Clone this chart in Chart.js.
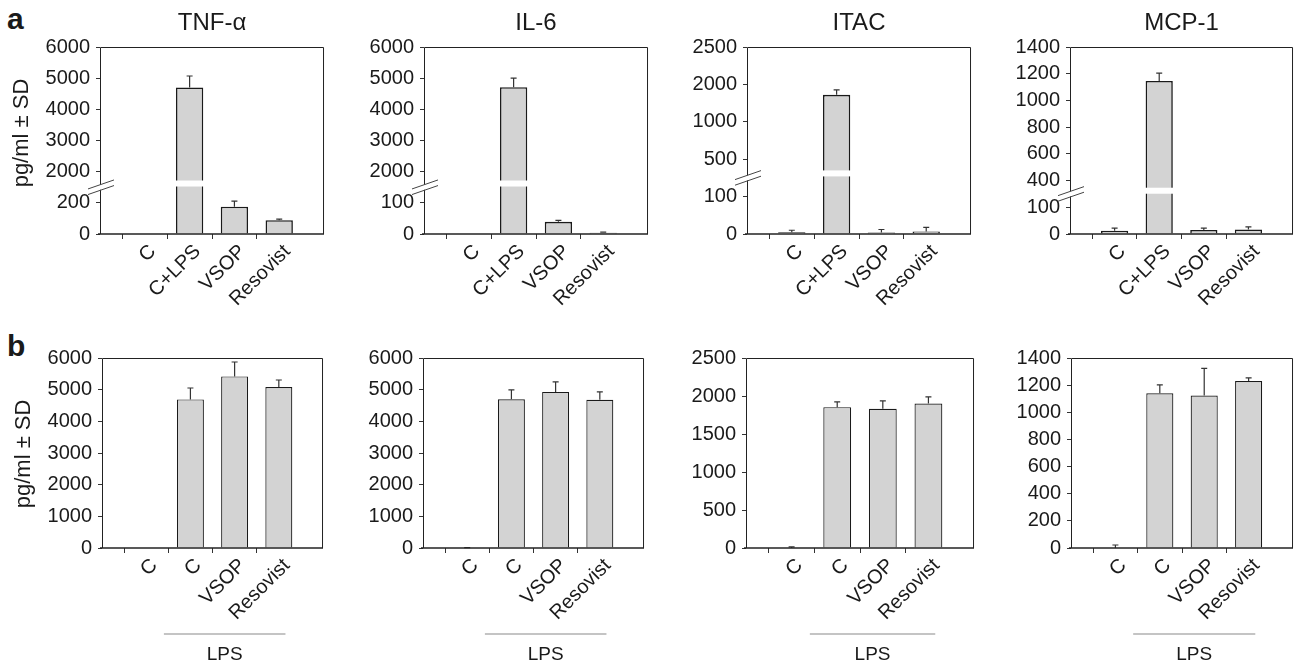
<!DOCTYPE html>
<html>
<head>
<meta charset="utf-8">
<script src="https://cdn.jsdelivr.net/npm/chart.js@4"></script>
<style>
  body { margin: 0; background: #fff; width: 1310px; height: 666px; position: relative; overflow: hidden;
         font-family: "Liberation Sans", Arial, sans-serif; }
  canvas { position: absolute; }
  .lbl { position: absolute; font-weight: bold; font-size: 30px; color: #1a1a1a; line-height: 1; }
</style>
</head>
<body>
<div class="lbl" style="left:7px;top:4px">a</div>
<div class="lbl" style="left:7px;top:331px">b</div>
<script>
// tick labels of the broken y axes (each tick sits one step apart)
const tnfTicks = [0, 200, 2000, 3000, 4000, 5000, 6000];
const il6Ticks = [0, 100, 2000, 3000, 4000, 5000, 6000];
const itacTicks = [0, 100, 500, 1000, 2000, 2500];
const mcpTicks = [0, 100, 400, 600, 800, 1000, 1200, 1400];
// plain y axes of row b
const tnfTicksB = [0, 1000, 2000, 3000, 4000, 5000, 6000];
const il6TicksB = [0, 1000, 2000, 3000, 4000, 5000, 6000];
const itacTicksB = [0, 500, 1000, 1500, 2000, 2500];
const mcpTicksB = [0, 200, 400, 600, 800, 1000, 1200, 1400];

const catsA = ['C', 'C+LPS', 'VSOP', 'Resovist'];
const catsB = ['C', 'C', 'VSOP', 'Resovist'];

// row a: means and SD (pg/ml)
const tnfA = [0, 4700, 175, 89];
const tnfAsd = [0, 370, 36, 6];
const il6A = [0, 4710, 39, 4];
const il6Asd = [0, 290, 5, 2];
const itacA = [4.5, 1720, 4, 7];
const itacAsd = [5.5, 135, 8, 10.5];
const mcpA = [12, 1146, 15, 17];
const mcpAsd = [10, 58, 7, 10];

// row b: means and SD (pg/ml)
const tnfB = [0, 4693, 5419, 5084];
const tnfBsd = [0, 360, 455, 221];
const il6B = [0, 4697, 4930, 4678];
const il6Bsd = [10, 296, 315, 252];
const itacB = [0, 1853, 1832, 1902];
const itacBsd = [15, 71, 105, 87];
const mcpB = [0, 1140, 1123, 1231];
const mcpBsd = [22, 62, 201, 22];

const INK = '#1a1a1a';
const FONT = '"Liberation Sans", Arial, sans-serif';

// value -> position on the axis (one unit per tick step)
function toAxis(v, ticks, broken) {
  if (broken) {
    if (v <= ticks[1]) return v / ticks[1];
    if (v < ticks[2]) return 1 + (v - ticks[1]) / ticks[1];
  }
  for (let i = 0; i < ticks.length - 1; i++) {
    if (v <= ticks[i + 1]) return i + (v - ticks[i]) / (ticks[i + 1] - ticks[i]);
  }
  return ticks.length - 1;
}

const panels = [
  {title: 'TNF-\u03b1', ticks: tnfTicks, cats: catsA, vals: tnfA, sd: tnfAsd, broken: true, box: [100, 338, 47, 234], ytitle: 0.46, bw: 1.6},
  {title: 'IL-6', ticks: il6Ticks, cats: catsA, vals: il6A, sd: il6Asd, broken: true, box: [424, 662, 47, 234], bw: 1.6},
  {title: 'ITAC', ticks: itacTicks, cats: catsA, vals: itacA, sd: itacAsd, broken: true, box: [747, 985, 47, 234], bw: 1.6},
  {title: 'MCP-1', ticks: mcpTicks, cats: catsA, vals: mcpA, sd: mcpAsd, broken: true, box: [1070, 1307, 47, 234], bw: 1.6},
  {ticks: tnfTicksB, cats: catsB, vals: tnfB, sd: tnfBsd, box: [102, 337, 358, 548], ytitle: 0.505, lps: true, bw: 1.2},
  {ticks: il6TicksB, cats: catsB, vals: il6B, sd: il6Bsd, box: [423, 658, 358, 548], lps: true, bw: 1.2},
  {ticks: itacTicksB, cats: catsB, vals: itacB, sd: itacBsd, box: [746, 988, 358, 548], lps: true, bw: 1.2},
  {ticks: mcpTicksB, cats: catsB, vals: mcpB, sd: mcpBsd, box: [1071, 1307, 358, 548], lps: true, bw: 1.2}
];

const PAD_L = 95, PAD_T = 47, PAD_R = 4, X_H = 115;

function makeDecor(p) {
  return {
    id: 'decor',
    afterDatasetsDraw(chart) {
      const ctx = chart.ctx, a = chart.chartArea;
      const xs = chart.scales.x, ys = chart.scales.y;
      const bars = chart.getDatasetMeta(0).data;
      ctx.save();
      // white band across bars that run through the axis break
      if (p.broken) {
        const yb = ys.getPixelForValue(1.62);
        ctx.fillStyle = '#fff';
        p.vals.forEach(function (v, i) {
          if (v > p.ticks[2]) {
            const b = bars[i + 1];
            ctx.fillRect(b.x - b.width / 2 - 2, yb - 3, b.width + 4, 6);
          }
        });
      }
      // error bars (upper whisker only)
      ctx.strokeStyle = '#333';
      ctx.lineWidth = 1.2;
      p.vals.forEach(function (v, i) {
        if (!p.sd[i]) return;
        const x = xs.getPixelForValue(i + 1);
        const y0 = ys.getPixelForValue(toAxis(v, p.ticks, p.broken));
        const y1 = ys.getPixelForValue(toAxis(v + p.sd[i], p.ticks, p.broken));
        ctx.beginPath();
        ctx.moveTo(x, y0); ctx.lineTo(x, y1);
        ctx.moveTo(x - 3, y1); ctx.lineTo(x + 3, y1);
        ctx.stroke();
      });
      // frame
      ctx.strokeStyle = '#222';
      ctx.lineWidth = 1;
      ctx.beginPath();
      ctx.moveTo(a.left + 0.5, a.bottom);
      ctx.lineTo(a.left + 0.5, a.top + 0.5);
      ctx.lineTo(a.right - 0.5, a.top + 0.5);
      ctx.lineTo(a.right - 0.5, a.bottom);
      ctx.stroke();
      ctx.lineWidth = 1.6;
      ctx.beginPath();
      ctx.moveTo(a.left - 2, a.bottom);
      ctx.lineTo(a.right, a.bottom);
      ctx.stroke();
      // break marks on the y axis
      if (p.broken) {
        const yc = ys.getPixelForValue(1.5);
        ctx.fillStyle = '#fff';
        ctx.fillRect(a.left - 2, yc - 2.5, 5, 5);
        ctx.strokeStyle = '#444';
        ctx.lineWidth = 1;
        [-2.8, 2.8].forEach(function (d) {
          ctx.beginPath();
          ctx.moveTo(a.left - 12, yc + d + 4.5);
          ctx.lineTo(a.left + 14, yc + d - 4.5);
          ctx.stroke();
        });
      }
      ctx.fillStyle = INK;
      ctx.textAlign = 'center';
      ctx.textBaseline = 'middle';
      if (p.title) {
        ctx.font = '24px ' + FONT;
        ctx.fillText(p.title, (a.left + a.right) / 2, a.top - 24);
      }
      if (p.ytitle) {
        ctx.save();
        ctx.translate(a.left - 78, a.top + (a.bottom - a.top) * p.ytitle);
        ctx.rotate(-Math.PI / 2);
        ctx.font = '22px ' + FONT;
        ctx.fillText('pg/ml \u00b1 SD', 0, 0);
        ctx.restore();
      }
      if (p.lps) {
        const step = xs.getPixelForValue(3) - xs.getPixelForValue(2);
        const x0 = xs.getPixelForValue(2) - 0.6 * step;
        const x1 = xs.getPixelForValue(4) + 0.15 * step;
        ctx.strokeStyle = '#8a8a8a';
        ctx.lineWidth = 1.2;
        ctx.beginPath();
        ctx.moveTo(x0, a.bottom + 86);
        ctx.lineTo(x1, a.bottom + 86);
        ctx.stroke();
        ctx.font = '19px ' + FONT;
        ctx.fillText('LPS', (x0 + x1) / 2, a.bottom + 107);
      }
      ctx.restore();
    }
  };
}

panels.forEach(function (p) {
  const cv = document.createElement('canvas');
  const w = p.box[1] - p.box[0], h = p.box[3] - p.box[2];
  cv.width = w + PAD_L + PAD_R;
  cv.height = h + PAD_T + X_H;
  cv.style.left = (p.box[0] - PAD_L) + 'px';
  cv.style.top = (p.box[2] - PAD_T) + 'px';
  document.body.appendChild(cv);

  const n = p.cats.length;
  const labels = [''].concat(p.cats, ['']);
  const data = [null].concat(p.vals.map(function (v) { return toAxis(v, p.ticks, p.broken); }), [null]);

  new Chart(cv.getContext('2d'), {
    type: 'bar',
    data: {
      labels: labels,
      datasets: [{
        data: data,
        backgroundColor: '#d3d3d3',
        borderColor: INK,
        borderWidth: p.bw,
        barPercentage: 0.61,
        categoryPercentage: 1
      }]
    },
    options: {
      responsive: false,
      animation: false,
      devicePixelRatio: 1,
      layout: { padding: { left: 0, top: PAD_T, right: PAD_R, bottom: 0 } },
      plugins: { legend: { display: false }, tooltip: { enabled: false } },
      scales: {
        x: {
          type: 'category',
          offset: false,
          afterFit: function (s) { s.height = X_H; },
          border: { display: false },
          grid: {
            drawOnChartArea: false,
            tickLength: 5,
            color: function (c) { return (c.index === 0 || c.index === n + 1) ? 'rgba(0,0,0,0)' : '#333'; }
          },
          ticks: {
            autoSkip: false, minRotation: 45, maxRotation: 45, padding: 1, labelOffset: 8,
            color: INK, font: { family: FONT, size: 20 }
          }
        },
        y: {
          type: 'linear',
          min: 0,
          max: p.ticks.length - 1,
          afterFit: function (s) { s.width = PAD_L; },
          border: { display: false },
          grid: { drawOnChartArea: false, tickLength: 4, color: '#333' },
          ticks: {
            stepSize: 1, autoSkip: false, padding: 6, color: INK, font: { family: FONT, size: 20 },
            callback: function (v) { return p.ticks[v]; }
          }
        }
      }
    },
    plugins: [makeDecor(p)]
  });
});
</script>
</body>
</html>
